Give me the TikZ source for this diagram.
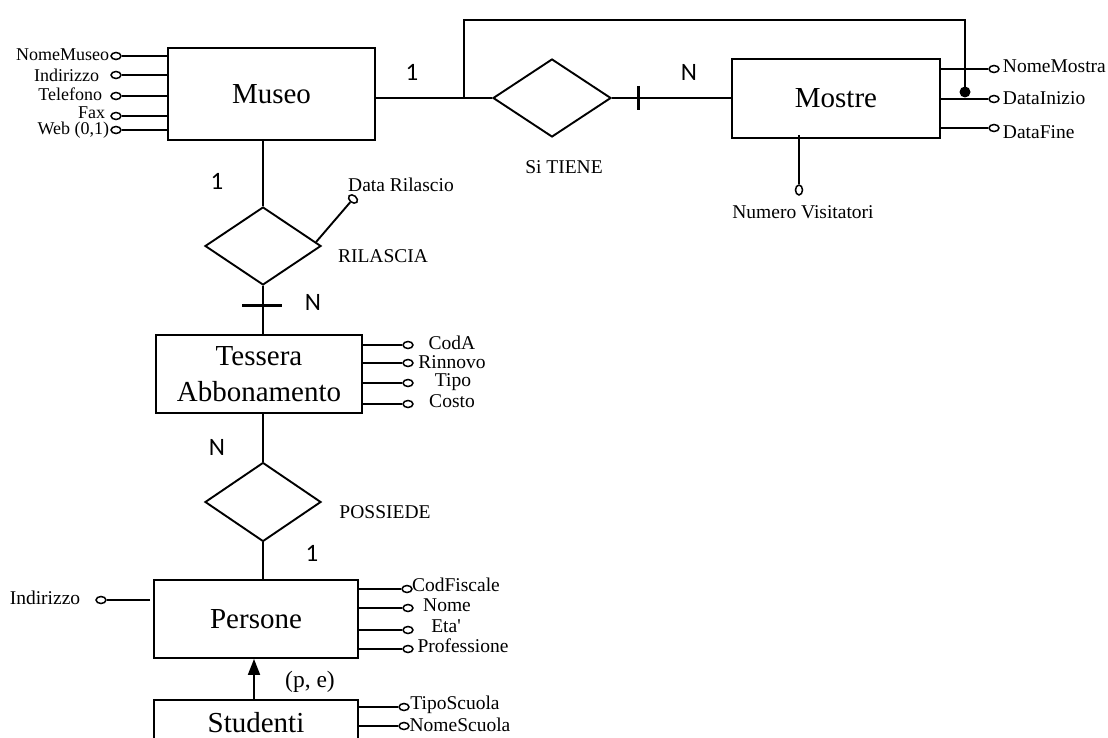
\documentclass[tikz,border=0pt]{standalone}
\usepackage{fontspec}
\setmainfont{Liberation Serif}
\newfontfamily\cardfont{Carlito}
\usetikzlibrary{shapes.geometric,arrows.meta,calc}

\begin{document}
\begin{tikzpicture}[x=1pt,y=-1pt,line width=1.9pt,
  entity/.style={draw,rectangle,inner sep=0pt,align=center,
    font=\fontsize{29}{36}\selectfont},
  relation/.style={draw,diamond,inner sep=0pt},
  attrdot/.style={draw,ellipse,fill=white,inner sep=0pt,line width=1.5pt,
    minimum width=10pt,minimum height=7pt},
  attrtext/.style={inner sep=0pt,font=\fontsize{19.5}{22}\selectfont},
  smallattr/.style={inner sep=0pt,font=\fontsize{18}{20}\selectfont},
  reltext/.style={inner sep=0pt,font=\fontsize{19.5}{22}\selectfont},
  card/.style={inner sep=0pt,font=\cardfont\fontsize{25}{28}\selectfont},
  tick/.style={line width=3pt}]

\path[use as bounding box] (0,0) rectangle (1108,738);
\clip (0,0) rectangle (1108,738);

% entities
\node[entity,minimum width=207pt,minimum height=92pt] (Museo) at (271.5,94) {Museo};
\node[entity,minimum width=208pt,minimum height=79pt] (Mostre) at (836,98.5) {Mostre};
\node[entity,minimum width=206pt,minimum height=78pt] (Tessera) at (259,374) {Tessera\\Abbonamento};
\node[entity,minimum width=204pt,minimum height=78pt] (Persone) at (256,619) {Persone};
\node[entity,minimum width=204pt,minimum height=45pt] (Studenti) at (256,722.5) {Studenti};

% relationships
\node[relation,minimum width=118pt,minimum height=78pt] (SiTiene) at (552,98) {};
\node[relation,minimum width=116pt,minimum height=78pt] (Rilascia) at (263,246) {};
\node[relation,minimum width=116pt,minimum height=79pt] (Possiede) at (263,502) {};

\node[reltext] (tSiTiene) at (564,167) {Si TIENE};
\node[reltext] (tRilascia) at (383,256) {RILASCIA};
\node[reltext] (tPossiede) at (385,512) {POSSIEDE};

% Museo -- Si TIENE -- Mostre
\coordinate (J) at (464,98);
\draw (Museo.east |- SiTiene.west) -- (SiTiene.west);
\draw (SiTiene.east) -- (Mostre.west |- SiTiene.east);
\draw[tick] (638,86) -- (638,110);
\coordinate (D) at (965,92);
\draw (J) -- (J |- 0,20) -- (D |- 0,20) -- (D);
\fill (D) circle (5.5pt);
\node[card] (c1) at (412,72) {1};
\node[card] (c2) at (689,72) {N};

% Museo -- RILASCIA -- Tessera
\draw (Rilascia.north |- Museo.south) -- (Rilascia.north);
\draw (Rilascia.south) -- (Rilascia.south |- Tessera.north);
\draw[tick] (242,305) -- (282,305);
\node[card] (c3) at (217,181) {1};
\node[card] (c4) at (313,302) {N};
\node[attrdot,rotate=-40] (dr) at (353,199) {};
\draw ($(Rilascia.north)!0.9!(Rilascia.east)$) -- (dr);
\node[attrtext] (tdr) at (401,185) {Data Rilascio};

% Tessera -- POSSIEDE -- Persone
\draw (Possiede.north |- Tessera.south) -- (Possiede.north);
\draw (Possiede.south) -- (Possiede.south |- Persone.north);
\node[card] (c5) at (217,447) {N};
\node[card] (c6) at (312,553) {1};

% generalisation
\draw[-{Triangle[length=16pt,width=12pt]}] ([xshift=-2pt]Studenti.north) -- ([xshift=-2pt]Persone.south);
\node[inner sep=0pt,font=\fontsize{23.5}{26}\selectfont] (pe) at (310,682) {(p, e)};

% Museo attributes
\node[attrdot] (m1) at (116,56) {};
\node[attrdot] (m2) at (116,75) {};
\node[attrdot] (m3) at (116,96) {};
\node[attrdot] (m4) at (116,116) {};
\node[attrdot] (m5) at (116,130) {};
\foreach \a in {m1,m2,m3,m4,m5} \draw (Museo.west |- \a) -- (\a.east);
\node[smallattr,anchor=east] at (110,55) {NomeMuseo};
\node[smallattr,anchor=east] at (100,75) {Indirizzo};
\node[smallattr,anchor=east] at (103,94) {Telefono};
\node[smallattr,anchor=east] at (106,112.5) {Fax};
\node[smallattr,anchor=east] at (110,130.5) {Web (0,1)};

% Mostre attributes
\node[attrdot] (s1) at (994,69) {};
\node[attrdot] (s2) at (994,99) {};
\node[attrdot] (s3) at (994,128) {};
\foreach \a in {s1,s2,s3} \draw (Mostre.east |- \a) -- (\a.west);
\node[attrtext,anchor=west] at (1002,66) {NomeMostra};
\node[attrtext,anchor=west] at (1002,98) {DataInizio};
\node[attrtext,anchor=west] at (1002,132) {DataFine};
\node[attrdot,minimum width=7pt,minimum height=10pt] (nv) at (799,190) {};
\draw ([yshift=4pt]nv |- Mostre.south) -- (nv.north);
\node[attrtext] at (803,212) {Numero Visitatori};

% Tessera attributes
\node[attrdot] (t1) at (408,345) {};
\node[attrdot] (t2) at (408,363) {};
\node[attrdot] (t3) at (408,383) {};
\node[attrdot] (t4) at (408,404) {};
\foreach \a in {t1,t2,t3,t4} \draw (Tessera.east |- \a) -- (\a.west);
\node[attrtext] at (452,343) {CodA};
\node[attrtext] at (452,362) {Rinnovo};
\node[attrtext] at (453,382) {Tipo};
\node[attrtext] at (452,401) {Costo};

% Persone attributes
\node[attrdot] (p1) at (407,589) {};
\node[attrdot] (p2) at (408,608) {};
\node[attrdot] (p3) at (408,630) {};
\node[attrdot] (p4) at (408,649) {};
\foreach \a in {p1,p2,p3,p4} \draw (Persone.east |- \a) -- (\a.west);
\node[attrtext] at (456,585) {CodFiscale};
\node[attrtext] at (447,605) {Nome};
\node[attrtext] at (446,626) {Eta\textquotesingle};
\node[attrtext] at (463,646) {Professione};
\node[attrdot] (p5) at (101,600) {};
\draw ([xshift=-3pt]Persone.west |- p5) -- (p5.east);
\node[attrtext] at (45,598) {Indirizzo};

% Studenti attributes
\node[attrdot] (u1) at (404,707) {};
\node[attrdot] (u2) at (404,726) {};
\foreach \a in {u1,u2} \draw (Studenti.east |- \a) -- (\a.west);
\node[attrtext] at (455,705) {TipoScuola};
\node[attrtext] at (460,725) {NomeScuola};
\end{tikzpicture}
\end{document}
